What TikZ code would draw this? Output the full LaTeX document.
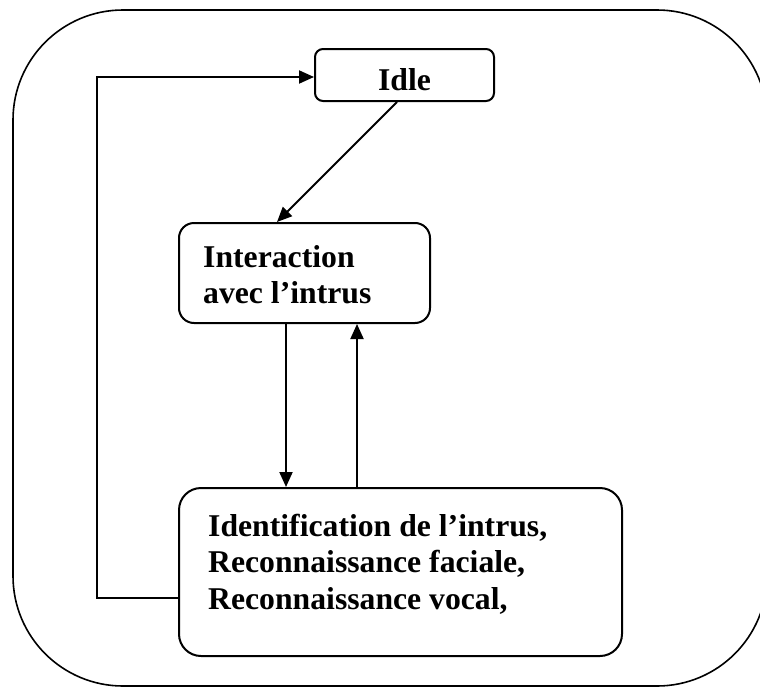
\documentclass[tikz,border=0pt]{standalone}
\usepackage{fontspec}
\setmainfont{Liberation Serif}
\usetikzlibrary{arrows.meta}
\begin{document}
\begin{tikzpicture}[x=1pt,y=-1pt,
  box/.style={draw, line width=2pt, inner sep=0pt},
  lbl/.style={inner sep=0pt, font=\fontsize{31.7}{37}\selectfont\bfseries},
  arr/.style={line width=2pt, -{Triangle[length=15pt,width=13pt]}},
  frame/.style={draw, line width=1.6pt, rounded corners=110pt}]
  \clip (0,0) rectangle (760,688);
  \fill[white] (0,0) rectangle (760,688);

  % outer frame (right side runs past the page edge)
  \draw[frame] (13,10) rectangle (767,686);

  % state boxes
  \node[box, rounded corners=8pt, minimum width=179pt, minimum height=52pt] (idle) at (404.5,75) {};
  \node[box, rounded corners=15pt, minimum width=251pt, minimum height=100pt] (inter) at (304.5,273) {};
  \node[box, rounded corners=22pt, minimum width=443pt, minimum height=168pt] (ident) at (400.5,572) {};

  % labels
  \node[lbl, anchor=base] (tidle) at (404.5,90) {Idle};
  \node[lbl, anchor=base west] (tinter1) at (203,267) {Interaction};
  \node[lbl, anchor=base west] (tinter2) at (203,303) {avec l’intrus};
  \node[lbl, anchor=base west] (tident1) at (208,536) {Identification de l’intrus,};
  \node[lbl, anchor=base west] (tident2) at (208,572) {Reconnaissance faciale,};
  \node[lbl, anchor=base west] (tident3) at (208,609) {Reconnaissance vocal,};

  % transitions
  \draw[arr] ([xshift=-7.5pt]idle.south) -- ([xshift=-27.5pt]inter.north);
  \draw[arr] ([xshift=-18.5pt]inter.south) -- ([xshift=-18.5pt]inter.south |- ident.north);
  \draw[arr] ([xshift=-43.5pt]ident.north) -- ([xshift=-43.5pt]ident.north |- inter.south);
  \coordinate (back) at (97,77);
  \draw[arr] ([yshift=-26pt]ident.west) -| (back) -- ([yshift=-2pt]idle.west);
\end{tikzpicture}
\end{document}
